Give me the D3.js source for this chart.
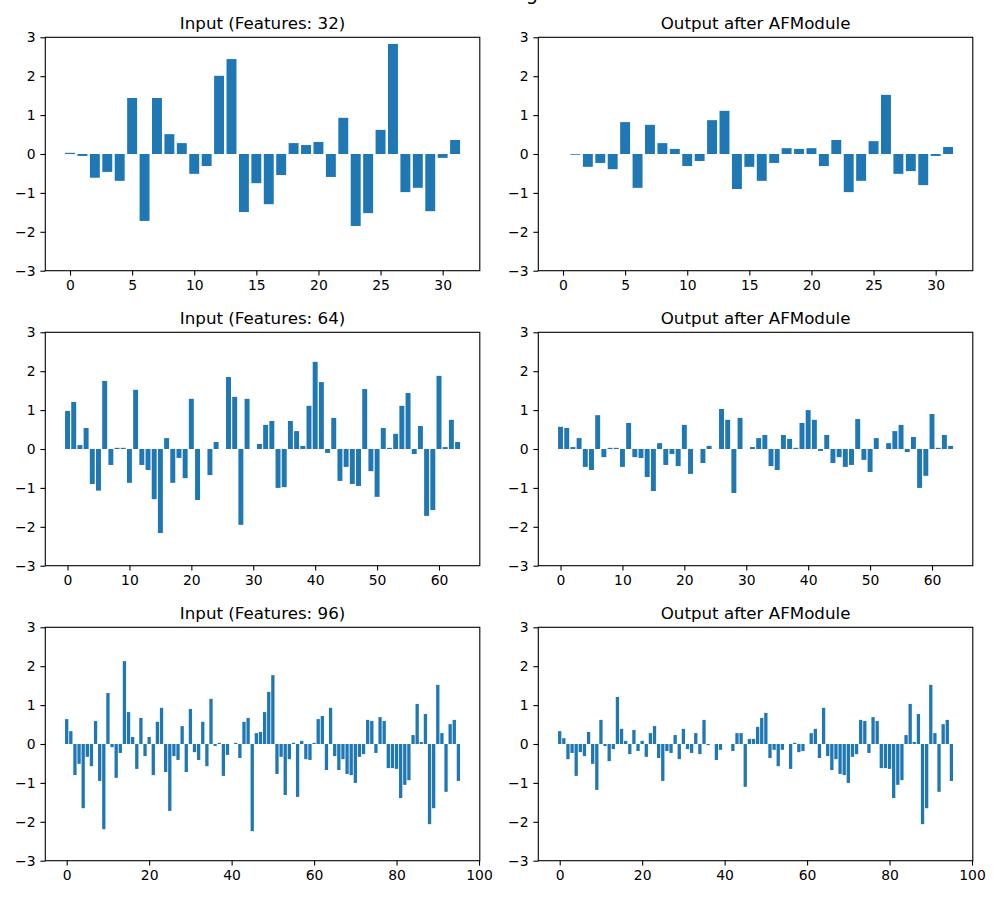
<!DOCTYPE html>
<html>
<head>
<meta charset="utf-8">
<script src="https://cdn.jsdelivr.net/npm/d3@7"></script>
<style>
  body { margin: 0; background: #fff; }
  text { font-family: "DejaVu Sans", sans-serif; }
</style>
</head>
<body>
<div id="chart"></div>
<script>
// values
const input32 = [0.03,-0.05,-0.61,-0.46,-0.69,1.44,-1.72,1.44,0.51,0.28,-0.51,-0.31,2.01,2.44,-1.49,-0.75,
  -1.29,-0.54,0.28,0.23,0.31,-0.59,0.93,-1.85,-1.52,0.62,2.83,-0.98,-0.87,-1.47,-0.10,0.36];
const output32 = [0,-0.02,-0.33,-0.23,-0.39,0.82,-0.87,0.75,0.28,0.13,-0.31,-0.18,0.87,1.11,-0.90,-0.33,
  -0.69,-0.23,0.15,0.13,0.15,-0.31,0.36,-0.98,-0.69,0.33,1.52,-0.51,-0.44,-0.80,-0.05,0.18];

const input64 = [0.98,1.21,0.10,0.54,-0.90,-1.07,1.75,-0.41,0.03,0.03,
  -0.87,1.52,-0.41,-0.54,-1.29,-2.16,0.28,-0.87,-0.23,-0.75,
  1.29,-1.31,0,-0.67,0.18,0,1.85,1.34,-1.95,1.29,
  0,0.13,0.62,0.72,-1.00,-0.98,0.72,0.46,0.08,1.11,
  2.24,1.72,-0.10,0.80,-0.82,-0.46,-0.90,-0.95,1.54,-0.57,
  -1.23,0.54,0.03,0.39,1.11,1.44,-0.13,0.59,-1.72,-1.57,
  1.88,0.05,0.75,0.18];
const output64 = [0.57,0.54,0.05,0.28,-0.46,-0.54,0.87,-0.21,0.03,0.03,
  -0.46,0.67,-0.21,-0.23,-0.72,-1.08,0.15,-0.41,-0.13,-0.44,
  0.62,-0.64,0,-0.36,0.08,0,1.03,0.75,-1.13,0.80,
  0,0.05,0.28,0.36,-0.44,-0.54,0.36,0.26,0.03,0.67,
  1.00,0.75,-0.05,0.36,-0.36,-0.21,-0.46,-0.41,0.77,-0.28,
  -0.59,0.28,0,0.15,0.46,0.62,-0.08,0.31,-1.00,-0.69,
  0.90,0.03,0.36,0.08];

const input96 = [0.64,0.33,-0.80,-0.51,-1.65,-0.33,-0.57,0.59,-0.95,-2.19,
  1.31,-0.08,-0.87,-0.23,2.13,0.82,0.18,-0.64,0.67,-0.31,
  0.18,-0.80,0.57,0.93,-0.72,-1.72,-0.31,-0.41,0.46,-0.72,
  0.90,-0.21,-0.41,0.57,-0.57,1.16,-0.05,0.03,-0.82,-0.28,
  0,0.03,-0.36,0.57,0.67,-2.24,0.28,0.31,0.82,1.34,
  1.77,-0.77,-0.33,-1.31,-0.39,0.03,-1.36,0.08,-0.39,-0.41,
  0.03,0.64,0.72,-0.67,0.93,-0.31,-0.67,-0.39,-0.77,-0.80,
  -1.00,-0.33,-0.26,0.62,0.59,-0.23,0.69,0.59,-0.62,-0.62,
  -0.64,-1.39,-1.05,-0.93,0.23,1.03,0.05,0.77,-2.06,-1.65,
  1.52,0.28,-1.23,0.51,0.62,-0.95];
const output96 = [0.33,0.15,-0.39,-0.23,-0.82,-0.21,-0.31,0.31,-0.51,-1.18,
  0.62,-0.05,-0.44,-0.13,1.21,0.39,0.08,-0.26,0.36,-0.18,
  0.08,-0.33,0.28,0.46,-0.36,-0.95,-0.18,-0.23,0.23,-0.39,
  0.39,-0.13,-0.23,0.28,-0.26,0.62,-0.03,0,-0.41,-0.15,
  0,0,-0.18,0.28,0.28,-1.10,0.13,0.13,0.44,0.67,
  0.80,-0.36,-0.15,-0.57,-0.15,0,-0.64,0.03,-0.21,-0.18,
  0,0.28,0.39,-0.36,0.93,-0.31,-0.67,-0.39,-0.77,-0.80,
  -1.00,-0.33,-0.26,0.62,0.59,-0.23,0.69,0.59,-0.62,-0.62,
  -0.64,-1.39,-1.05,-0.93,0.23,1.03,0.05,0.77,-2.06,-1.65,
  1.52,0.28,-1.23,0.51,0.62,-0.95];

const xTicks32 = [0, 5, 10, 15, 20, 25, 30];
const xTicks64 = [0, 10, 20, 30, 40, 50, 60];
const xTicks96 = [0, 20, 40, 60, 80, 100];
const yTicks = [-3, -2, -1, 0, 1, 2, 3];
const suptitle = "AFModule Processing Visualization";

const rows = [
  { input: input32, output: output32, ticks: xTicks32, n: 32 },
  { input: input64, output: output64, ticks: xTicks64, n: 64 },
  { input: input96, output: output96, ticks: xTicks96, n: 96 }
];

const width = 1000, height = 900;
const colLeft = [45.3, 538.3], rowTop = [37.3, 332.3, 627.3];
const W = 434.5, H = 233.4;
const barColor = "#1f77b4";

const svg = d3.select("#chart").append("svg")
  .attr("width", width)
  .attr("height", height);

// figure title, mostly cut off at the top edge in the reference
svg.append("text")
  .attr("x", width / 2)
  .attr("y", 0)
  .attr("text-anchor", "middle")
  .attr("font-size", 19.4)
  .text(suptitle);

function drawPanel(left, top, values, ticks, title) {
  const n = values.length;
  const pad = (n - 1 + 0.8) * 0.05;
  const x = d3.scaleLinear()
    .domain([-0.4 - pad, n - 1 + 0.4 + pad])
    .range([0, W]);
  const y = d3.scaleLinear().domain([-3, 3]).range([H, 0]);

  const g = svg.append("g").attr("transform", `translate(${left},${top})`);

  g.selectAll(".bar")
    .data(values)
    .enter()
    .append("rect")
    .attr("class", "bar")
    .attr("x", (d, i) => x(i - 0.4))
    .attr("width", x(0.8) - x(0))
    .attr("y", d => y(Math.max(0, d)))
    .attr("height", d => Math.abs(y(d) - y(0)))
    .attr("fill", barColor);

  const gx = g.append("g")
    .attr("transform", `translate(0,${H})`)
    .call(d3.axisBottom(x).tickValues(ticks).tickSize(4.9).tickPadding(4.9).tickFormat(d3.format("d")));
  const gy = g.append("g")
    .call(d3.axisLeft(y).tickValues(yTicks).tickSize(4.9).tickPadding(4.9).tickFormat(d3.format("d")));

  [gx, gy].forEach(a => {
    a.select(".domain").remove();
    a.selectAll("line").attr("stroke", "#000").attr("stroke-width", 1.1);
    a.selectAll("text")
      .attr("font-size", 13.9)
      .attr("fill", "#000")
      .attr("font-family", "DejaVu Sans, sans-serif");
  });

  g.append("rect")
    .attr("width", W)
    .attr("height", H)
    .attr("fill", "none")
    .attr("stroke", "#000")
    .attr("stroke-width", 1.1);

  g.append("text")
    .attr("x", W / 2)
    .attr("y", -8.3)
    .attr("text-anchor", "middle")
    .attr("font-size", 16.7)
    .text(title);
}

rows.forEach((r, i) => {
  drawPanel(colLeft[0], rowTop[i], r.input, r.ticks, `Input (Features: ${r.n})`);
  drawPanel(colLeft[1], rowTop[i], r.output, r.ticks, "Output after AFModule");
});
</script>
</body>
</html>
